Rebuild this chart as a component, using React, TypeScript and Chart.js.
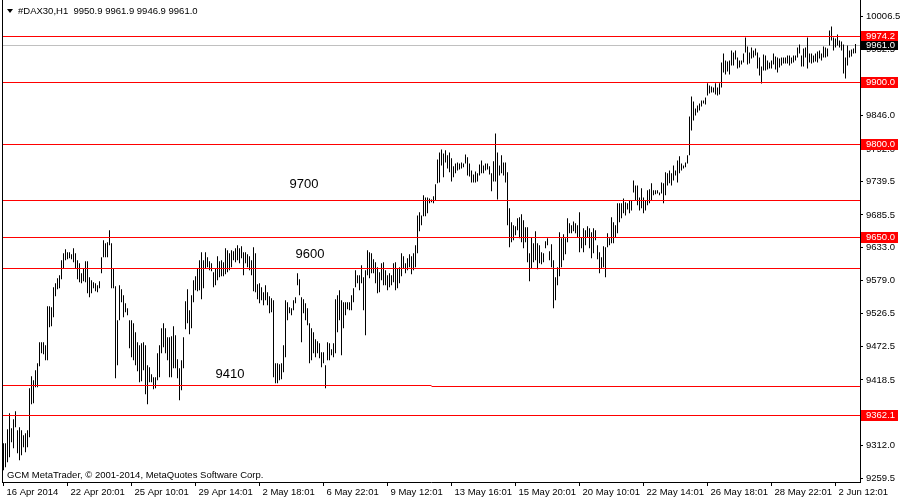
import { useEffect, useRef } from "react";
import { Chart, registerables } from "chart.js";

Chart.register(...registerables);

// ---- data (H1 bars, high / low) ----
const highs = [
  9316.0, 9316.0, 9338.7, 9364.5, 9340.3, 9354.9, 9367.8, 9337.1, 9341.9, 9337.1,
  9329.0, 9332.3, 9337.1, 9405.0, 9424.4, 9417.9, 9434.1, 9445.4, 9479.4, 9479.4,
  9479.4, 9474.5, 9537.6, 9537.6, 9536.0, 9568.3, 9574.8, 9582.9, 9587.7, 9612.0,
  9623.3, 9629.8, 9624.9, 9624.9, 9621.7, 9631.4, 9623.3, 9612.0, 9607.1, 9591.0,
  9599.1, 9610.4, 9610.4, 9584.5, 9579.6, 9576.4, 9574.8, 9571.6, 9578.0, 9616.8,
  9644.3, 9639.5, 9641.1, 9660.5, 9639.5, 9599.1, 9569.9, 9515.0, 9571.6, 9565.1,
  9555.4, 9542.4, 9534.4, 9515.0, 9515.0, 9510.1, 9495.6, 9479.4, 9474.5, 9477.8,
  9479.4, 9474.5, 9442.2, 9439.0, 9427.6, 9422.8, 9422.8, 9461.6, 9474.5, 9502.0,
  9510.1, 9502.0, 9487.5, 9487.5, 9489.1, 9505.3, 9490.7, 9451.9, 9437.3, 9450.3,
  9487.5, 9545.7, 9565.1, 9531.1, 9555.4, 9579.6, 9586.1, 9599.1, 9612.0, 9624.9,
  9612.0, 9624.9, 9616.8, 9610.4, 9607.1, 9592.6, 9599.1, 9618.4, 9610.4, 9612.0,
  9608.8, 9631.4, 9628.2, 9623.3, 9628.2, 9626.6, 9631.4, 9636.2, 9631.4, 9634.6,
  9624.9, 9624.9, 9621.7, 9618.4, 9612.0, 9633.0, 9623.3, 9573.2, 9574.8, 9568.3,
  9560.2, 9571.6, 9560.2, 9553.8, 9550.5, 9547.3, 9445.4, 9445.4, 9443.8, 9445.4,
  9474.5, 9547.3, 9544.1, 9536.0, 9534.4, 9547.3, 9552.2, 9591.0, 9581.3, 9552.2,
  9548.9, 9542.4, 9534.4, 9510.1, 9502.0, 9495.6, 9484.2, 9481.0, 9477.8, 9463.2,
  9463.2, 9442.2, 9479.4, 9477.8, 9468.1, 9477.8, 9548.9, 9555.4, 9563.5, 9547.3,
  9544.1, 9544.1, 9544.1, 9544.1, 9555.4, 9566.7, 9595.8, 9587.7, 9587.7, 9603.9,
  9584.5, 9595.8, 9628.2, 9624.9, 9623.3, 9613.6, 9608.8, 9600.7, 9592.6, 9607.1,
  9608.8, 9595.8, 9587.7, 9591.0, 9587.7, 9607.1, 9608.8, 9599.1, 9600.7, 9623.3,
  9618.4, 9607.1, 9615.2, 9621.7, 9618.4, 9623.3, 9636.2, 9684.7, 9689.6, 9684.7,
  9717.1, 9713.8, 9713.8, 9712.2, 9710.6, 9715.5, 9734.9, 9775.3, 9786.6, 9791.5,
  9785.0, 9789.9, 9781.8, 9786.6, 9777.0, 9764.0, 9768.8, 9770.4, 9768.8, 9770.4,
  9768.8, 9783.4, 9778.6, 9768.8, 9757.5, 9751.0, 9755.9, 9752.7, 9767.2, 9773.7,
  9765.6, 9768.8, 9768.8, 9764.0, 9752.7, 9772.1, 9817.3, 9786.6, 9765.6, 9781.8,
  9770.4, 9770.4, 9754.3, 9696.1, 9673.4, 9668.6, 9667.0, 9679.9, 9681.5, 9686.4,
  9676.7, 9665.3, 9665.3, 9623.3, 9649.2, 9639.5, 9658.9, 9639.5, 9636.2, 9624.9,
  9623.3, 9642.7, 9647.6, 9626.6, 9637.9, 9612.0, 9584.5, 9600.7, 9657.3, 9647.6,
  9654.0, 9647.6, 9679.9, 9671.8, 9668.6, 9675.0, 9671.8, 9668.6, 9689.6, 9649.2,
  9663.7, 9660.5, 9667.0, 9663.7, 9657.3, 9663.7, 9660.5, 9636.2, 9624.9, 9616.8,
  9634.6, 9633.0, 9655.6, 9647.6, 9681.5, 9673.4, 9668.6, 9704.2, 9704.2, 9704.2,
  9712.2, 9705.8, 9704.2, 9709.0, 9709.0, 9741.3, 9733.2, 9733.2, 9713.8, 9728.4,
  9713.8, 9709.0, 9725.2, 9726.8, 9736.5, 9725.2, 9725.2, 9725.2, 9721.9, 9738.1,
  9736.5, 9754.3, 9752.7, 9757.5, 9752.7, 9765.6, 9757.5, 9773.7, 9780.2, 9768.8,
  9765.6, 9770.4, 9781.8, 9844.8, 9877.2, 9869.1, 9857.8, 9862.6, 9865.9, 9870.7,
  9870.7, 9875.6, 9898.4, 9895.0, 9893.4, 9891.7, 9898.4, 9891.7, 9898.4, 9932.1,
  9946.7, 9935.4, 9933.8, 9935.4, 9951.6, 9948.3, 9951.6, 9940.2, 9935.4, 9935.4,
  9946.7, 9972.6, 9958.0, 9948.3, 9956.4, 9951.6, 9954.8, 9948.3, 9940.2, 9925.7,
  9945.1, 9943.5, 9935.4, 9932.1, 9935.4, 9946.7, 9941.8, 9940.2, 9938.6, 9940.2,
  9940.2, 9940.2, 9943.5, 9943.5, 9940.2, 9943.5, 9943.5, 9956.4, 9961.3, 9943.5,
  9954.8, 9956.4, 9972.6, 9946.7, 9946.7, 9943.5, 9946.7, 9949.9, 9951.6, 9946.7,
  9958.0, 9956.4, 9954.8, 9983.9, 9990.4, 9972.6, 9971.0, 9977.4, 9967.7, 9966.1,
  9961.3, 9940.2, 9959.6, 9951.6, 9953.2, 9954.8, 9961.9,
];

const lows = [
  9272.4, 9277.3, 9285.4, 9293.5, 9317.7, 9308.0, 9341.9, 9299.9, 9288.6, 9296.7,
  9309.6, 9301.5, 9309.6, 9325.8, 9379.1, 9380.7, 9406.6, 9406.6, 9440.6, 9461.6,
  9460.0, 9450.3, 9450.3, 9503.6, 9505.3, 9519.8, 9553.8, 9565.1, 9566.7, 9581.3,
  9599.1, 9612.0, 9613.6, 9615.2, 9613.6, 9608.8, 9599.1, 9581.3, 9576.4, 9574.8,
  9578.0, 9576.4, 9558.6, 9552.2, 9558.6, 9566.7, 9561.9, 9560.2, 9566.7, 9591.0,
  9616.8, 9616.8, 9616.8, 9636.2, 9566.7, 9566.7, 9421.2, 9442.2, 9515.0, 9544.1,
  9519.8, 9527.9, 9523.1, 9469.7, 9455.1, 9450.3, 9442.2, 9432.5, 9414.7, 9416.3,
  9434.1, 9395.3, 9379.1, 9414.7, 9414.7, 9403.4, 9405.0, 9417.9, 9422.8, 9461.6,
  9471.3, 9461.6, 9450.3, 9422.8, 9422.8, 9437.3, 9437.3, 9421.2, 9385.6, 9401.8,
  9437.3, 9500.4, 9510.1, 9492.3, 9502.0, 9544.1, 9563.5, 9561.9, 9563.5, 9548.9,
  9566.7, 9599.1, 9600.7, 9595.8, 9594.2, 9568.3, 9571.6, 9579.6, 9584.5, 9586.1,
  9586.1, 9589.3, 9592.6, 9595.8, 9600.7, 9612.0, 9608.8, 9612.0, 9607.1, 9615.2,
  9587.7, 9607.1, 9600.7, 9595.8, 9587.7, 9561.9, 9560.2, 9548.9, 9542.4, 9547.3,
  9539.2, 9547.3, 9539.2, 9526.3, 9527.9, 9422.8, 9413.1, 9413.1, 9417.9, 9419.6,
  9430.9, 9455.1, 9515.0, 9526.3, 9523.1, 9531.1, 9542.4, 9571.6, 9555.4, 9479.4,
  9526.3, 9515.0, 9506.9, 9445.4, 9450.3, 9461.6, 9455.1, 9461.6, 9453.5, 9439.0,
  9445.4, 9405.0, 9450.3, 9450.3, 9458.4, 9455.1, 9461.6, 9495.6, 9515.0, 9458.4,
  9502.0, 9523.1, 9532.8, 9531.1, 9531.1, 9544.1, 9568.3, 9574.8, 9563.5, 9574.8,
  9531.1, 9490.7, 9587.7, 9582.9, 9591.0, 9591.0, 9574.8, 9558.6, 9560.2, 9579.6,
  9571.6, 9571.6, 9563.5, 9568.3, 9571.6, 9576.4, 9563.5, 9566.7, 9574.8, 9586.1,
  9599.1, 9591.0, 9595.8, 9600.7, 9589.3, 9595.8, 9600.7, 9623.3, 9658.9, 9668.6,
  9683.1, 9683.1, 9688.0, 9704.2, 9705.8, 9704.2, 9709.0, 9736.5, 9738.1, 9765.6,
  9746.2, 9770.4, 9760.7, 9754.3, 9739.7, 9746.2, 9752.7, 9757.5, 9759.1, 9760.7,
  9762.4, 9768.8, 9749.4, 9747.8, 9738.1, 9738.1, 9738.1, 9739.7, 9749.4, 9752.7,
  9752.7, 9757.5, 9759.1, 9751.0, 9723.6, 9739.7, 9739.7, 9710.6, 9749.4, 9752.7,
  9749.4, 9738.1, 9668.6, 9633.0, 9641.1, 9644.3, 9652.4, 9660.5, 9647.6, 9641.1,
  9631.4, 9641.1, 9608.8, 9578.0, 9599.1, 9608.8, 9612.0, 9597.4, 9607.1, 9605.5,
  9608.8, 9631.4, 9636.2, 9612.0, 9600.7, 9534.4, 9547.3, 9571.6, 9586.1, 9600.7,
  9612.0, 9621.7, 9641.1, 9655.6, 9655.6, 9658.9, 9655.6, 9649.2, 9624.9, 9631.4,
  9624.9, 9636.2, 9649.2, 9631.4, 9615.2, 9623.3, 9644.3, 9613.6, 9591.0, 9599.1,
  9600.7, 9584.5, 9633.0, 9636.2, 9639.5, 9639.5, 9649.2, 9655.6, 9673.4, 9679.9,
  9688.0, 9684.7, 9694.4, 9688.0, 9692.8, 9721.9, 9709.0, 9700.9, 9692.8, 9696.1,
  9688.0, 9692.8, 9700.9, 9704.2, 9709.0, 9717.1, 9718.7, 9720.3, 9717.1, 9720.3,
  9704.2, 9717.1, 9733.2, 9736.5, 9733.2, 9741.3, 9749.4, 9738.1, 9752.7, 9757.5,
  9760.7, 9762.4, 9768.8, 9781.8, 9822.2, 9838.4, 9846.4, 9851.3, 9854.5, 9861.0,
  9865.9, 9864.2, 9878.8, 9882.0, 9883.6, 9883.6, 9880.4, 9878.8, 9880.4, 9891.7,
  9916.0, 9912.7, 9917.6, 9912.7, 9927.3, 9927.3, 9937.0, 9922.4, 9924.1, 9928.9,
  9932.1, 9948.3, 9928.9, 9930.5, 9938.6, 9940.2, 9943.5, 9922.4, 9911.1, 9898.2,
  9919.2, 9919.2, 9920.8, 9922.4, 9922.4, 9928.9, 9920.8, 9916.0, 9924.1, 9927.3,
  9930.5, 9930.5, 9930.5, 9927.3, 9930.5, 9932.1, 9935.4, 9940.2, 9946.7, 9925.7,
  9925.7, 9940.2, 9922.4, 9932.1, 9930.5, 9932.1, 9933.8, 9932.1, 9938.6, 9935.4,
  9940.2, 9940.2, 9941.8, 9959.6, 9967.7, 9951.6, 9956.4, 9959.6, 9956.4, 9951.6,
  9914.4, 9906.3, 9927.3, 9940.2, 9941.8, 9946.7, 9946.9,
];

const xTickIndex = [0, 32, 64, 96, 128, 160, 192, 224, 256, 288, 320, 352, 384, 416];
const xTickLabels = [
  "16 Apr 2014", "22 Apr 20:01", "25 Apr 10:01", "29 Apr 14:01", "2 May 18:01",
  "6 May 22:01", "9 May 12:01", "13 May 16:01", "15 May 20:01", "20 May 10:01",
  "22 May 14:01", "26 May 18:01", "28 May 22:01", "2 Jun 12:01",
];
const yTickValues = [
  10006.5, 9952.5, 9898.5, 9846.0, 9792.0, 9739.5, 9685.5, 9633.0, 9579.0,
  9526.5, 9472.5, 9418.5, 9365.0, 9312.0, 9259.5,
];

// horizontal levels (full width)
const levelPrices = [9974.2, 9900.0, 9800.0, 9709.0, 9650.0, 9600.0, 9362.1];
const levelHasLabel = [true, true, true, false, true, false, true];
// partial level segments (bar index range)
const segPrices = [9410.0, 9408.6];
const segFrom = [null, 214];
const segTo = [214, null];

// text objects (anchored by bar index / price)
const noteTexts = ["9700", "9600", "9410"];
const noteIndex = [143, 146, 106];
const notePrice = [9735.0, 9622.0, 9428.0];

const bidPrice = 9961.0;
const titleText = "#DAX30,H1  9950.9 9961.9 9946.9 9961.0";
const copyrightText = "GCM MetaTrader, \u00A9 2001-2014, MetaQuotes Software Corp.";

const FONT = "'Liberation Sans', Arial, sans-serif";
const FS = 9.5;

const overlayPlugin = {
  id: "mt4overlay",
  beforeDatasetsDraw(chart: any) {
    const { ctx, chartArea: a, scales } = chart;
    const py = Math.round(scales.y.getPixelForValue(bidPrice)) + 0.5;
    ctx.save();
    ctx.strokeStyle = "#c0c0c0";
    ctx.lineWidth = 1;
    ctx.beginPath();
    ctx.moveTo(a.left, py);
    ctx.lineTo(a.right, py);
    ctx.stroke();
    ctx.restore();
  },
  afterDatasetsDraw(chart: any) {
    const { ctx, chartArea: a, scales } = chart;
    const x = scales.x;
    const y = scales.y;
    ctx.save();
    ctx.strokeStyle = "#ff0000";
    ctx.lineWidth = 1;
    levelPrices.forEach((p) => {
      const py = Math.round(y.getPixelForValue(p)) + 0.5;
      ctx.beginPath();
      ctx.moveTo(a.left, py);
      ctx.lineTo(a.right, py);
      ctx.stroke();
    });
    segPrices.forEach((p, k) => {
      const py = Math.round(y.getPixelForValue(p)) + 0.5;
      const x0 = segFrom[k] == null ? a.left : x.getPixelForValue(segFrom[k]);
      const x1 = segTo[k] == null ? a.right : x.getPixelForValue(segTo[k]);
      ctx.beginPath();
      ctx.moveTo(x0, py);
      ctx.lineTo(x1, py);
      ctx.stroke();
    });
    // text objects
    ctx.fillStyle = "#000";
    ctx.font = `13px ${FONT}`;
    ctx.textAlign = "left";
    ctx.textBaseline = "middle";
    noteTexts.forEach((t, k) => {
      ctx.fillText(t, x.getPixelForValue(noteIndex[k]), y.getPixelForValue(notePrice[k]));
    });
    // left frame
    ctx.fillStyle = "#000";
    ctx.fillRect(a.left, a.top, 1, a.bottom - a.top);
    ctx.restore();
  },
  afterDraw(chart: any) {
    const { ctx, chartArea: a, scales } = chart;
    const y = scales.y;
    ctx.save();
    ctx.font = `${FS}px ${FONT}`;
    ctx.textAlign = "left";
    ctx.textBaseline = "middle";
    levelPrices.forEach((p, k) => {
      if (!levelHasLabel[k]) return;
      const py = Math.round(y.getPixelForValue(p));
      ctx.fillStyle = "#ff0000";
      ctx.fillRect(a.right + 1, py - 5, 37, 11);
      ctx.fillStyle = "#ffffff";
      ctx.fillText(p.toFixed(1), a.right + 6, py + 0.5);
    });
    const by = Math.round(y.getPixelForValue(bidPrice));
    ctx.fillStyle = "#000";
    ctx.fillRect(a.right + 1, by - 4, 37, 9);
    ctx.fillStyle = "#fff";
    ctx.fillText(bidPrice.toFixed(1), a.right + 6, by + 0.5);

    // title
    ctx.fillStyle = "#000";
    ctx.beginPath();
    ctx.moveTo(7, 9);
    ctx.lineTo(13, 9);
    ctx.lineTo(10, 13);
    ctx.closePath();
    ctx.fill();
    ctx.fillText(titleText, 18, 11);
    // copyright
    ctx.fillText(copyrightText, 7, 475);
    ctx.restore();
  },
};

export default function App() {
  const ref = useRef<HTMLCanvasElement | null>(null);

  useEffect(() => {
    if (!ref.current) return;
    Chart.defaults.font.family = FONT;
    Chart.defaults.font.size = FS;
    Chart.defaults.color = "#000";
    const bars = highs.map((h, i) => ({ x: i, y: [lows[i], h] }));
    const chart = new Chart(ref.current, {
      type: "bar",
      data: {
        datasets: [
          {
            data: bars as any,
            backgroundColor: "#000000",
            borderWidth: 0,
            barThickness: 1,
            minBarLength: 1,
            inflateAmount: 0,
          } as any,
        ],
      },
      options: {
        animation: false,
        responsive: false,
        maintainAspectRatio: false,
        devicePixelRatio: 1,
        layout: { padding: { left: 2, right: 0, top: 0, bottom: 0 } },
        plugins: { legend: { display: false }, tooltip: { enabled: false } },
        scales: {
          x: {
            type: "linear",
            bounds: "data",
            min: -0.75,
            max: 428.25,
            offset: false,
            afterFit: (s: any) => {
              s.height = 18;
              s.paddingLeft = 0;
              s.paddingRight = 0;
            },
            afterBuildTicks: (s: any) => {
              s.ticks = xTickIndex.map((v) => ({ value: v }));
            },
            ticks: {
              autoSkip: false,
              maxRotation: 0,
              minRotation: 0,
              align: "start",
              labelOffset: 3,
              padding: 1,
              color: "#000",
              font: { size: FS, family: FONT },
              callback: (_v: any, idx: number) => xTickLabels[idx] ?? "",
            },
            grid: {
              display: true,
              drawOnChartArea: false,
              drawTicks: true,
              tickLength: 4,
              color: "#000",
              offset: false,
            },
            border: { display: true, color: "#000", width: 1 },
          },
          y: {
            type: "linear",
            position: "right",
            bounds: "data",
            min: 9253.3,
            max: 10033.2,
            afterFit: (s: any) => {
              s.width = 40;
              s.paddingTop = 0;
              s.paddingBottom = 0;
            },
            afterBuildTicks: (s: any) => {
              s.ticks = yTickValues.map((v) => ({ value: v }));
            },
            ticks: {
              autoSkip: false,
              padding: 3,
              color: "#000",
              font: { size: FS, family: FONT },
              callback: (v: any) => Number(v).toFixed(1),
            },
            grid: {
              display: true,
              drawOnChartArea: false,
              drawTicks: true,
              tickLength: 3,
              color: "#000",
            },
            border: { display: true, color: "#000", width: 1 },
          },
        },
      },
      plugins: [overlayPlugin],
    });
    return () => chart.destroy();
  }, []);

  return (
    <div
      style={{
        position: "fixed",
        left: 0,
        top: 0,
        width: 900,
        height: 500,
        background: "#fff",
      }}
    >
      <canvas ref={ref} width={900} height={500} style={{ display: "block" }} />
    </div>
  );
}
